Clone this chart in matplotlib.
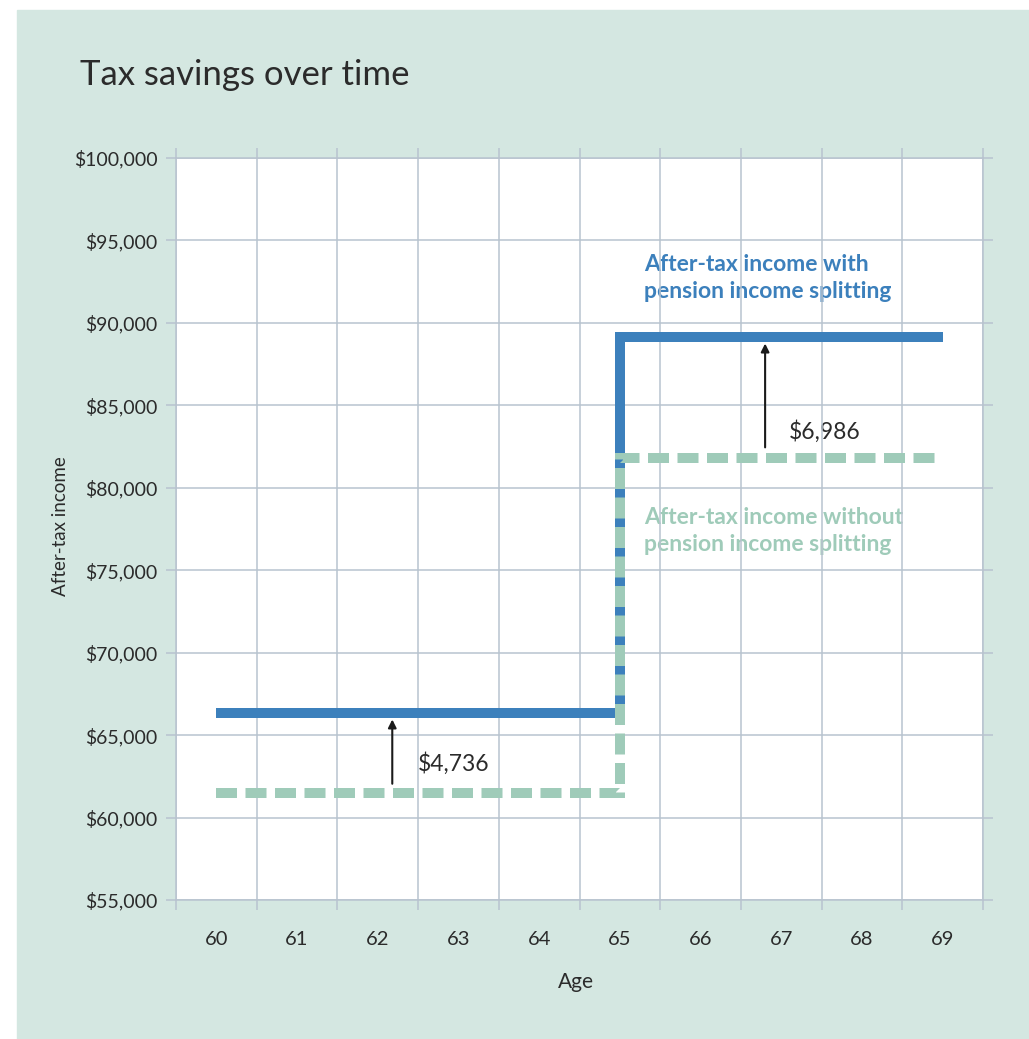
import matplotlib
matplotlib.use("Agg")
import matplotlib.pyplot as plt
from matplotlib.patches import Rectangle

plt.rcParams['font.family'] = ['Lato', 'DejaVu Sans']

ages = [60, 61, 62, 63, 64, 65, 66, 67, 68, 69]
with_split = [66340, 66340, 66340, 66340, 66340, 89150, 89150, 89150, 89150, 89150]
without_split = [61490, 61490, 61490, 61490, 61490, 81790, 81790, 81790, 81790, 81790]
y_ticks = [55000, 60000, 65000, 70000, 75000, 80000, 85000, 90000, 95000, 100000]
savings_labels = ["$4,736", "$6,986"]

bg = "#d4e7e1"
grid_c = "#b8c3cf"
blue = "#3c80bc"
green = "#9fcbb9"
txt = "#2b2b2b"

fig = plt.figure(figsize=(10.29, 10.39), dpi=100)
fig.patch.set_facecolor("white")
fig.patches.append(Rectangle((17 / 1029, 0), 1 - 17 / 1029, 1 - 10 / 1039,
                             transform=fig.transFigure, color=bg, zorder=-1))

ax = fig.add_axes([176 / 1029, 1 - 900 / 1039, (983 - 176) / 1029, (900 - 158) / 1039])
ax.set_facecolor("white")

ax.plot(ages, with_split, drawstyle="steps-post", color=blue, lw=7.2,
        solid_capstyle="butt", solid_joinstyle="miter", zorder=3)
ax.plot(ages, without_split, drawstyle="steps-post", color=green, lw=7.2,
        dashes=(2.1, 0.85), dash_capstyle="butt", dash_joinstyle="miter", zorder=4)

ax.set_xlim(59.5, 69.5)
ax.set_ylim(55000, 100000)
ax.set_xticks(ages)
ax.set_xticklabels([str(a) for a in ages])
ax.set_xticks([a - 0.5 for a in ages] + [69.5], minor=True)
ax.set_yticks(y_ticks)
ax.set_yticklabels([f"${v:,.0f}" for v in y_ticks])

ax.set_axisbelow(True)
ax.grid(True, which="minor", axis="x", color=grid_c, lw=1.1)
ax.grid(True, which="major", axis="y", color=grid_c, lw=1.1)
ax.tick_params(axis="x", which="major", length=0, pad=22, labelsize=14.5, labelcolor=txt)
ax.tick_params(axis="x", which="minor", length=7.2, width=1.1, color=grid_c,
               direction="out", top=True, bottom=True)
ax.tick_params(axis="y", which="major", length=7.2, width=1.1, color=grid_c,
               direction="out", left=True, right=True, pad=6, labelsize=14, labelcolor=txt)
for s in ax.spines.values():
    s.set_color(grid_c)
    s.set_linewidth(1.1)

# savings arrows
ax.annotate("", xy=(62.18, 65950), xytext=(62.18, 62050),
            arrowprops=dict(arrowstyle="-|>", color="#1a1a1a", lw=1.5,
                            mutation_scale=12, shrinkA=0, shrinkB=0), zorder=5)
ax.text(62.5, 63300, savings_labels[0], fontsize=16.5, color=txt, va="center", zorder=0.3)
ax.annotate("", xy=(66.80, 88750), xytext=(66.80, 82450),
            arrowprops=dict(arrowstyle="-|>", color="#1a1a1a", lw=1.5,
                            mutation_scale=12, shrinkA=0, shrinkB=0), zorder=5)
ax.text(67.09, 83400, savings_labels[1], fontsize=16.5, color=txt, va="center", zorder=0.3)

ax.text(65.3, 92750, "After-tax income with\npension income splitting", fontsize=16.5,
        fontweight="bold", color=blue, va="center", linespacing=1.35, zorder=0.3)
ax.text(65.3, 77400, "After-tax income without\npension income splitting", fontsize=16.5,
        fontweight="bold", color=green, va="center", linespacing=1.35, zorder=0.3)

fig.text(80 / 1029, 1 - 75 / 1039, "Tax savings over time", fontsize=25, color=txt, va="center")
fig.text(60 / 1029, 1 - 526 / 1039, "After-tax income", fontsize=13.5, color=txt,
         rotation=90, ha="center", va="center")
fig.text(576 / 1029, 1 - 982 / 1039, "Age", fontsize=15, color=txt, ha="center", va="center")

fig.savefig("out.png", dpi=100, facecolor=fig.get_facecolor())
